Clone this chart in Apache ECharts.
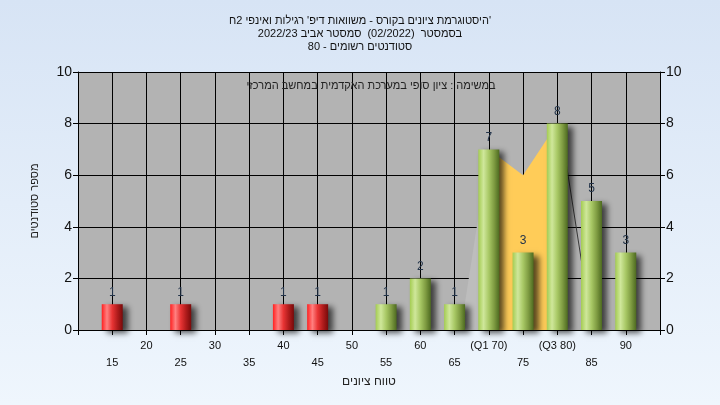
<!DOCTYPE html>
<html>
<head>
<meta charset="utf-8">
<script src="https://cdn.jsdelivr.net/npm/echarts@6/dist/echarts.min.js"></script>
<style>
  html, body { margin: 0; padding: 0; }
  #chart { width: 720px; height: 405px; }
</style>
</head>
<body>
<div id="chart"></div>
<script>
// Score bins (x positions) and their tick captions
const scoreBins = [15, 20, 25, 30, 35, 40, 45, 50, 55, 60, 65, 70, 75, 80, 85, 90];
const tickLabels = ['15', '20', '25', '30', '35', '40', '45', '50', '55', '60', '65', '(Q1 70)', '75', '(Q3 80)', '85', '90'];

// Failing bins (red) and passing bins (green)
const failBins = [15, 25, 40, 45];
const failCounts = [1, 1, 1, 1];
const passBins = [55, 60, 65, 70, 75, 80, 85, 90];
const passCounts = [1, 2, 1, 7, 3, 8, 5, 3];

// Inter-quartile band and whisker edges, as [score, count]
const quartileBand = [[70, 7], [75, 6], [80, 8]];
const lowerWhisker = [[65.9, 0], [70, 7]];
const upperWhisker = [[80.4, 8], [85.1, 0]];

const titleLines = [
  "היסטוגרמת ציונים בקורס - משוואות דיפ' רגילות ואינפי 2ח'",
  "בסמסטר  (02/2022)  סמסטר אביב 2022/23",
  "סטודנטים רשומים - 80"
];
const noteText = 'במשימה : ציון סופי במערכת האקדמית במחשב המרכזי';
const xName = 'טווח ציונים';
const yName = 'מספר סטודנטים';

const FONT = "'Liberation Sans', Arial, sans-serif";

function barGradient(stops) {
  return new echarts.graphic.LinearGradient(0, 0, 1, 0, stops.map(function (c, i) {
    return { offset: i / (stops.length - 1), color: c };
  }));
}
const redFill = barGradient(['#ff2020', '#ff8080', '#e83434', '#b01c1c', '#780a0a']);
const greenFill = barGradient(['#a4cc52', '#cfe79b', '#a8c865', '#7f9c42', '#4d6a20']);

const barShadow = {
  shadowColor: 'rgba(0,0,0,0.65)',
  shadowBlur: 6,
  shadowOffsetX: 5,
  shadowOffsetY: 3
};

const barData = [];
failBins.forEach(function (b, i) {
  barData.push({ value: [b, failCounts[i]], itemStyle: Object.assign({ color: redFill }, barShadow) });
});
passBins.forEach(function (b, i) {
  barData.push({ value: [b, passCounts[i]], itemStyle: Object.assign({ color: greenFill }, barShadow) });
});

const chart = echarts.init(document.getElementById('chart'));

const yAxisBase = {
  type: 'value',
  min: 0,
  max: 10,
  interval: 2,
  axisLine: { show: true, lineStyle: { color: '#000', width: 1 } },
  axisTick: { show: true, inside: false, length: 5, lineStyle: { color: '#000' } },
  axisLabel: { fontSize: 14, color: '#111', fontFamily: FONT, margin: 6 }
};

chart.setOption({
  backgroundColor: new echarts.graphic.LinearGradient(0, 0, 0, 1, [
    { offset: 0, color: '#d7e4f5' },
    { offset: 1, color: '#eff6fd' }
  ]),
  animation: false,
  title: {
    text: titleLines.join('\n'),
    left: 'center',
    top: 9,
    textStyle: { fontSize: 11, lineHeight: 13, fontWeight: 'normal', color: '#111', fontFamily: FONT }
  },
  grid: {
    left: 78, right: 60, top: 72, bottom: 75,
    show: true, backgroundColor: '#b3b3b3', borderWidth: 0
  },
  graphic: [{
    type: 'text',
    x: 371,
    y: 86,
    z: 10,
    style: { text: noteText, fontSize: 11, fill: '#222', fontFamily: FONT, align: 'center', verticalAlign: 'middle' }
  }],
  xAxis: {
    type: 'value',
    min: 10,
    max: 95,
    interval: 5,
    name: xName,
    nameLocation: 'middle',
    nameGap: 45,
    nameTextStyle: { fontSize: 12, color: '#222', fontFamily: FONT },
    axisLine: { show: true, onZero: false, lineStyle: { color: '#000', width: 1 } },
    axisTick: { show: true, inside: false, length: 5, lineStyle: { color: '#000' } },
    splitLine: { show: true, lineStyle: { color: '#000', width: 1 } },
    axisLabel: {
      fontSize: 11,
      lineHeight: 17,
      color: '#111',
      fontFamily: FONT,
      margin: 7,
      showMinLabel: true,
      showMaxLabel: true,
      formatter: function (v) {
        const i = scoreBins.indexOf(v);
        if (i < 0) return '';
        return i % 2 === 0 ? '\n' + tickLabels[i] : tickLabels[i];
      }
    }
  },
  yAxis: [
    Object.assign({}, yAxisBase, {
      position: 'left',
      name: yName,
      nameLocation: 'middle',
      nameRotate: 90,
      nameGap: 38,
      nameTextStyle: { fontSize: 11, color: '#222', fontFamily: FONT },
      splitLine: { show: true, lineStyle: { color: '#000', width: 1 } }
    }),
    Object.assign({}, yAxisBase, {
      position: 'right',
      splitLine: { show: false }
    })
  ],
  series: [
    {
      type: 'line',
      data: lowerWhisker,
      showSymbol: false,
      lineStyle: { width: 0 },
      areaStyle: { color: '#bdbdbd', opacity: 1 },
      z: 1,
      silent: true
    },
    {
      type: 'line',
      data: quartileBand,
      showSymbol: false,
      lineStyle: { width: 0 },
      areaStyle: { color: '#ffcc58', opacity: 1 },
      z: 1,
      silent: true
    },
    {
      type: 'line',
      data: upperWhisker,
      showSymbol: false,
      lineStyle: { width: 1, color: '#3a3a3a' },
      z: 1,
      silent: true
    },
    {
      type: 'bar',
      data: barData,
      barWidth: 21,
      z: 3,
      label: {
        show: true,
        position: 'top',
        distance: 6,
        fontSize: 12,
        color: '#23344a',
        fontFamily: FONT,
        formatter: function (p) { return p.value[1]; }
      }
    }
  ]
});
</script>
</body>
</html>
